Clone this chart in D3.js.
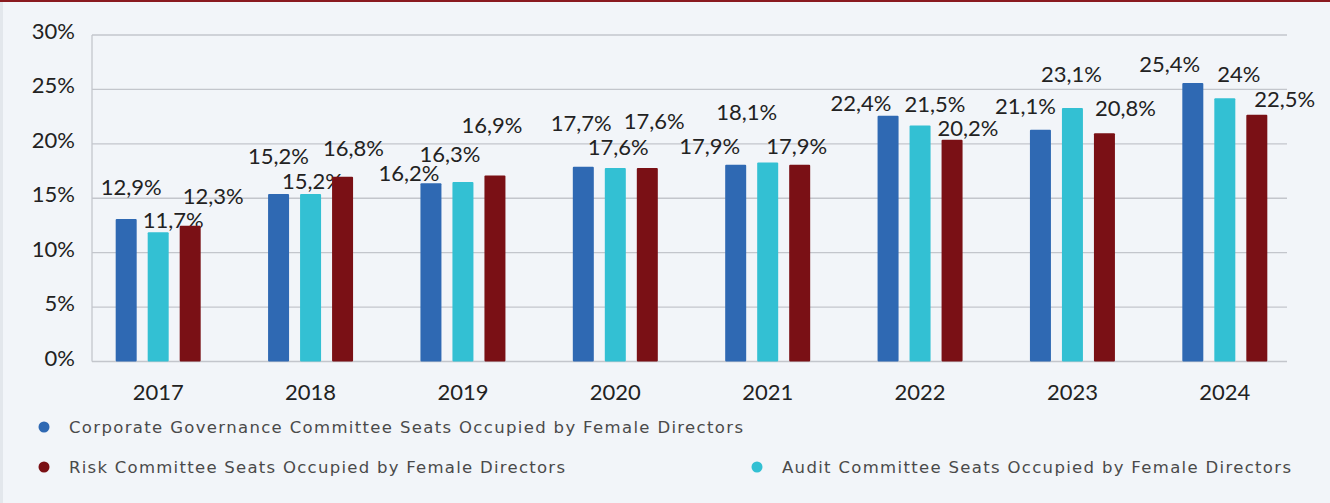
<!DOCTYPE html>
<html>
<head>
<meta charset="utf-8">
<script src="https://cdn.jsdelivr.net/npm/d3@7"></script>
<style>
  html, body { margin: 0; padding: 0; background: #f2f5f9; }
  svg { display: block; font-family: Lato, "Noto Sans", sans-serif; }
</style>
</head>
<body>
<div id="chart"></div>
<script>
// values (percent)
const years = ['2017', '2018', '2019', '2020', '2021', '2022', '2023', '2024'];
const corpGov = [12.9, 15.2, 16.2, 17.7, 17.9, 22.4, 21.1, 25.4];
const audit = [11.7, 15.2, 16.3, 17.6, 18.1, 21.5, 23.1, 24];
const risk = [12.3, 16.8, 16.9, 17.6, 17.9, 20.2, 20.8, 22.5];
const yTicks = [0, 5, 10, 15, 20, 25, 30];

const series = [
  { key: 'corp', name: 'Corporate Governance Committee Seats Occupied by Female Directors', color: '#2f69b3', values: corpGov },
  { key: 'audit', name: 'Audit Committee Seats Occupied by Female Directors', color: '#33c0d3', values: audit },
  { key: 'risk', name: 'Risk Committee Seats Occupied by Female Directors', color: '#7a1015', values: risk }
];

// label nudges (dx from bar centre, dy from bar top) to mimic the original's label collision layout
const labelNudge = {
  corp:  [[5, -26], [0, -32], [-22, -4], [-2, -38], [-26, -13], [-27, -7], [-15, -18], [-23, -13]],
  audit: [[15, -6], [2, -7], [-13, -22], [3, -15], [-21, -45], [15, -16], [-1, -28], [14, -18]],
  risk:  [[23, -24], [11, -23], [-3, -45], [7, -41], [-3, -13], [16, -6], [21, -19], [28, -10]]
};

const W = 1330, H = 503;
const plot = { left: 92, right: 1287, top: 35, bottom: 361.5 };

const svg = d3.select('#chart').append('svg').attr('width', W).attr('height', H);
svg.append('rect').attr('width', W).attr('height', H).attr('fill', '#f2f5f9');
svg.append('rect').attr('width', 3).attr('height', H).attr('fill', '#e3e7ec');
svg.append('rect').attr('width', W).attr('height', 2).attr('fill', '#8a1a1f');

const y = d3.scaleLinear().domain([0, 30]).range([plot.bottom, plot.top]);
const x = d3.scaleBand().domain(years).range([82, 1301]).padding(0);
const xi = d3.scaleBand().domain(series.map(s => s.key)).range([-42, 42]).paddingInner(0.375);

// grid
svg.append('g').selectAll('line').data(yTicks).join('line')
  .attr('x1', plot.left).attr('x2', plot.right)
  .attr('y1', d => y(d)).attr('y2', d => y(d))
  .attr('stroke', '#c3c6cc').attr('stroke-width', 1.3);
svg.append('line')
  .attr('x1', plot.left).attr('x2', plot.left)
  .attr('y1', y(30)).attr('y2', y(0))
  .attr('stroke', '#c3c6cc').attr('stroke-width', 1.3);

// y tick labels
svg.append('g').selectAll('text').data(yTicks).join('text')
  .attr('x', 75).attr('y', d => y(d) + 4)
  .attr('text-anchor', 'end')
  .attr('font-size', 22).attr('fill', '#222')
  .text(d => d + '%');

// x labels
svg.append('g').selectAll('text').data(years).join('text')
  .attr('x', d => x(d) + x.bandwidth() / 2).attr('y', 400)
  .attr('text-anchor', 'middle')
  .attr('font-size', 22).attr('fill', '#222')
  .text(d => d);

const fmt = v => String(v).replace('.', ',') + '%';

// bars + labels
series.forEach(s => {
  const g = svg.append('g');
  const cx = (d, i) => x(years[i]) + x.bandwidth() / 2 + xi(s.key) + xi.bandwidth() / 2;
  g.selectAll('rect').data(s.values).join('rect')
    .attr('x', (d, i) => cx(d, i) - xi.bandwidth() / 2 - 0.5)
    .attr('width', xi.bandwidth() + 1)
    .attr('y', d => y(d) - 2)
    .attr('height', d => plot.bottom - y(d) + 2)
    .attr('rx', 1)
    .attr('fill', s.color);
  g.selectAll('text').data(s.values).join('text')
    .attr('x', (d, i) => cx(d, i) + labelNudge[s.key][i][0])
    .attr('y', d => y(d))
    .attr('dy', (d, i) => labelNudge[s.key][i][1])
    .attr('text-anchor', 'middle')
    .attr('font-size', 22).attr('fill', '#222')
    .text(fmt);
});

// legend
const legendPos = { corp: [44, 427], risk: [44, 467], audit: [757, 467] };
const legendWidth = { corp: 674, risk: 496, audit: 509 };
series.forEach(s => {
  const [lx, ly] = legendPos[s.key];
  const g = svg.append('g').attr('transform', `translate(${lx},${ly})`);
  g.append('circle').attr('r', 5.5).attr('fill', s.color);
  g.append('text').attr('x', 25).attr('y', 6)
    .attr('font-family', '"DejaVu Sans", sans-serif')
    .attr('font-size', 16.5).attr('fill', '#4a4a4a')
    .attr('textLength', legendWidth[s.key]).attr('lengthAdjust', 'spacing')
    .text(s.name);
});
</script>
</body>
</html>
